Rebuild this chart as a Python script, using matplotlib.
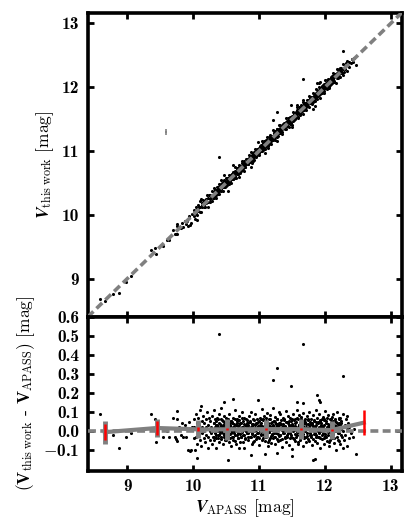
import numpy as np
import matplotlib
matplotlib.use('Agg')
from matplotlib import pyplot as plt
from matplotlib.ticker import FuncFormatter

plt.rcParams['font.family'] = ['cmb10', 'DejaVu Serif']
plt.rcParams['mathtext.fontset'] = 'custom'
plt.rcParams['mathtext.rm'] = 'cmr10'
plt.rcParams['mathtext.it'] = 'STIXGeneral:italic:bold'
plt.rcParams['mathtext.bf'] = 'cmb10'
plt.rcParams['axes.unicode_minus'] = False
plt.rcParams['font.size'] = 12.5

# (V_APASS, V_this_work - V_APASS)
bright_pts = [(8.59, 0.09), (8.66, -0.01), (8.78, -0.02), (8.87, -0.09), (8.98, -0.03),
              (9.06, -0.01), (9.36, 0.09), (9.42, 0.065), (9.44, -0.06), (9.55, -0.035),
              (9.60, 0.0), (9.63, -0.03), (9.69, 0.07), (9.75, 0.105), (9.76, 0.06),
              (9.73, -0.03), (9.74, -0.045), (9.75, -0.055), (9.78, 0.02), (9.81, -0.02),
              (9.85, -0.035), (9.88, 0.03), (9.89, -0.03), (9.92, -0.10), (9.95, -0.105),
              (9.97, -0.10), (9.94, 0.045), (9.99, 0.02), (9.90, 0.01), (9.83, 0.04)]

core_pts = [
    (10.01, 0.02), (10.02, -0.04), (10.02, 0.06), (10.03, -0.10), (10.04, 0.01), (10.04, 0.09),
    (10.05, -0.03), (10.06, 0.04), (10.06, -0.07), (10.07, 0.00), (10.08, 0.07), (10.08, -0.02),
    (10.09, 0.03), (10.10, -0.05), (10.10, 0.11), (10.11, 0.01), (10.12, -0.08), (10.13, 0.05),
    (10.13, -0.01), (10.14, 0.02), (10.15, 0.08), (10.16, -0.04), (10.16, 0.00), (10.17, 0.04),
    (10.18, -0.06), (10.19, 0.06), (10.20, -0.02), (10.20, 0.02), (10.21, 0.10), (10.22, -0.09),
    (10.23, 0.03), (10.23, -0.03), (10.24, 0.07), (10.25, 0.00), (10.25, -0.05),
    (10.26, 0.05), (10.27, -0.01), (10.27, 0.02), (10.28, -0.07), (10.29, 0.08), (10.29, 0.00),
    (10.30, -0.03), (10.31, 0.04), (10.31, 0.11), (10.32, -0.05), (10.33, 0.01), (10.33, 0.06),
    (10.34, -0.02), (10.35, 0.03), (10.35, -0.09), (10.36, 0.07), (10.37, 0.00), (10.37, -0.04),
    (10.38, 0.02), (10.39, 0.09), (10.39, -0.06), (10.40, 0.04), (10.41, -0.01), (10.41, 0.01),
    (10.42, 0.06), (10.43, -0.03), (10.43, 0.12), (10.44, 0.00), (10.45, -0.07), (10.45, 0.03),
    (10.46, 0.05), (10.47, -0.02), (10.47, 0.08), (10.48, 0.01), (10.49, -0.05), (10.49, 0.04),
    (10.50, -0.01), (10.50, 0.07),
    (10.51, 0.02), (10.515, -0.04), (10.52, 0.06), (10.53, 0.00), (10.535, -0.02), (10.54, 0.09),
    (10.55, -0.06), (10.555, 0.03), (10.56, 0.01), (10.57, -0.01), (10.575, 0.05), (10.58, -0.08),
    (10.59, -0.03), (10.593, 0.04), (10.60, 0.01), (10.607, 0.07), (10.61, -0.05), (10.62, 0.00),
    (10.625, 0.02), (10.63, -0.02), (10.64, 0.11), (10.645, 0.03), (10.65, -0.07), (10.66, 0.05),
    (10.665, 0.00), (10.67, 0.06), (10.68, -0.01), (10.685, -0.04), (10.69, 0.03), (10.70, 0.08),
    (10.705, 0.01), (10.71, -0.06), (10.72, 0.04), (10.73, -0.03), (10.735, 0.02), (10.745, 0.10),
    (10.75, 0.05), (10.755, -0.02), (10.76, 0.02), (10.77, -0.09), (10.775, 0.07), (10.78, 0.01),
    (10.79, -0.04), (10.795, 0.03), (10.80, 0.00), (10.81, 0.06), (10.815, -0.01), (10.82, 0.04),
    (10.83, -0.01), (10.835, 0.03), (10.84, -0.05), (10.85, 0.08), (10.855, 0.015), (10.86, -0.03),
    (10.87, 0.05), (10.875, 0.00), (10.88, 0.10), (10.89, -0.07), (10.895, 0.025), (10.90, -0.015),
    (10.905, 0.035), (10.91, -0.06), (10.92, 0.00), (10.925, 0.055), (10.93, -0.025), (10.94, 0.015),
    (10.945, 0.09), (10.95, -0.045), (10.96, 0.005), (10.965, 0.065), (10.97, -0.01), (10.98, 0.025),
    (10.985, -0.035), (10.99, 0.045), (11.00, 0.01), (11.005, -0.075), (11.01, 0.07), (11.02, 0.02),
    (11.025, -0.015), (11.03, 0.04), (11.04, 0.115), (11.045, -0.05), (11.05, 0.00), (11.06, 0.06),
    (11.065, 0.015), (11.07, -0.02), (11.08, 0.08), (11.085, -0.055), (11.09, 0.03), (11.10, 0.005),
    (11.105, 0.05), (11.11, -0.035), (11.12, 0.095), (11.125, 0.02), (11.13, -0.08), (11.14, 0.04),
    (11.145, -0.005), (11.15, 0.065), (11.16, -0.04), (11.165, 0.025), (11.17, 0.085), (11.18, -0.065),
    (11.185, 0.01), (11.19, 0.045), (11.20, -0.02), (11.205, 0.12), (11.21, 0.03), (11.22, -0.01),
    (11.225, 0.05), (11.23, -0.03), (11.24, 0.00), (11.245, 0.075), (11.25, -0.07), (11.26, 0.035),
    (11.265, 0.015), (11.27, -0.045), (11.28, 0.06), (11.285, 0.025), (11.29, -0.015), (11.30, 0.10),
    (11.305, -0.025), (11.31, 0.04), (11.32, 0.09), (11.325, -0.05), (11.33, 0.01), (11.34, 0.055),
    (11.345, -0.085), (11.35, 0.02), (11.36, 0.07), (11.365, -0.01), (11.37, 0.035), (11.38, 0.00),
    (11.385, 0.06), (11.39, -0.04), (11.40, 0.025), (11.405, 0.105), (11.41, -0.06), (11.42, 0.005),
    (11.425, 0.045), (11.43, -0.02), (11.44, 0.08), (11.445, 0.015), (11.45, -0.075), (11.46, 0.03),
    (11.465, -0.01), (11.47, 0.07), (11.48, -0.035), (11.485, 0.02), (11.49, 0.05), (11.50, -0.095),
    (11.505, 0.035), (11.51, 0.00), (11.52, 0.09), (11.525, -0.045), (11.53, 0.015), (11.54, 0.06),
    (11.545, 0.025), (11.55, -0.055), (11.56, 0.045), (11.565, 0.01), (11.57, -0.02), (11.58, 0.11),
    (11.585, 0.065), (11.59, -0.07), (11.60, 0.03), (11.605, -0.005), (11.61, 0.085), (11.62, 0.04),
    (11.625, -0.04), (11.63, 0.015), (11.64, 0.075), (11.645, -0.015), (11.65, 0.05), (11.66, -0.08),
    (11.665, 0.02), (11.67, 0.095), (11.68, 0.005), (11.685, -0.03), (11.69, 0.04), (11.70, 0.06),
    (11.705, 0.00), (11.71, -0.06), (11.72, 0.035), (11.725, 0.08), (11.73, -0.025), (11.74, 0.055),
    (11.745, 0.01), (11.75, -0.045), (11.76, 0.10), (11.765, 0.02), (11.77, -0.01), (11.78, 0.045),
    (11.785, 0.065), (11.79, -0.035), (11.80, 0.005), (11.805, 0.04), (11.81, -0.075), (11.82, 0.025),
    (11.825, 0.085), (11.83, -0.015), (11.84, 0.05), (11.845, -0.055), (11.85, 0.015), (11.86, 0.11),
    (11.865, -0.02), (11.87, 0.03), (11.88, 0.07), (11.885, -0.065), (11.89, 0.00), (11.90, 0.045),
    (11.905, -0.03), (11.91, 0.09), (11.92, 0.02), (11.925, -0.09), (11.93, 0.055), (11.94, 0.01),
    (11.945, 0.04), (11.95, -0.045), (11.96, 0.015), (11.965, 0.075), (11.97, -0.01), (11.98, 0.06),
    (11.985, -0.07), (11.99, 0.03), (12.00, 0.105), (12.005, -0.025), (12.01, 0.005), (12.02, 0.05),
    (12.025, -0.055), (12.03, 0.02), (12.04, 0.085), (12.045, -0.02), (12.05, 0.035), (12.06, 0.00),
    (12.065, -0.08), (12.07, 0.065), (12.08, 0.01), (12.085, 0.045), (12.09, -0.035), (12.10, 0.075),
    (12.105, 0.015), (12.11, -0.04), (12.12, 0.05), (12.125, 0.09), (12.13, -0.015), (12.14, 0.03),
    (12.145, -0.065), (12.15, 0.06), (12.16, 0.00), (12.165, 0.025), (12.17, -0.10), (12.18, 0.04),
    (12.19, 0.02), (12.20, -0.05), (12.21, 0.07), (12.215, -0.01), (12.22, 0.04), (12.23, -0.07),
    (12.24, 0.01), (12.25, 0.05), (12.26, -0.03), (12.27, 0.09), (12.28, 0.00), (12.29, -0.05),
    (12.30, 0.03), (12.31, -0.02), (12.32, 0.06), (12.33, -0.08), (12.34, 0.01), (12.35, 0.04),
    (12.36, -0.04), (12.37, 0.02), (12.39, -0.01), (12.41, 0.03), (12.43, -0.03), (12.44, 0.01)]

# the crowded middle of the cloud
dense_pts = [
    (10.302, 0.01), (10.311, -0.03), (10.318, 0.04), (10.327, -0.01), (10.333, 0.02), (10.342, 0.05),
    (10.351, -0.04), (10.357, 0.00), (10.366, 0.03), (10.372, -0.02), (10.381, 0.06), (10.388, 0.015),
    (10.397, -0.02), (10.404, 0.035), (10.412, 0.005), (10.421, -0.045), (10.427, 0.025), (10.436, 0.00),
    (10.443, 0.055), (10.452, -0.01), (10.458, 0.02), (10.467, -0.035), (10.474, 0.045), (10.483, 0.01),
    (10.491, 0.03), (10.498, -0.005), (10.506, -0.05), (10.514, 0.015), (10.522, 0.06), (10.528, -0.025),
    (10.537, 0.04), (10.544, 0.005), (10.553, -0.015), (10.561, 0.025), (10.567, -0.04), (10.576, 0.05),
    (10.583, 0.00), (10.592, 0.045), (10.598, -0.03), (10.606, 0.02), (10.614, -0.01), (10.622, 0.035),
    (10.629, 0.065), (10.637, -0.055), (10.646, 0.01), (10.652, 0.03), (10.661, -0.02), (10.668, 0.04),
    (10.677, 0.025), (10.683, -0.04), (10.692, 0.055), (10.699, 0.005), (10.708, -0.015), (10.716, 0.04),
    (10.722, -0.03), (10.731, 0.015), (10.738, 0.07), (10.747, -0.005), (10.753, 0.02), (10.762, -0.06),
    (10.768, -0.02), (10.777, 0.035), (10.784, 0.005), (10.793, -0.045), (10.801, 0.025), (10.807, 0.00),
    (10.816, 0.055), (10.823, -0.01), (10.832, 0.02), (10.838, -0.035), (10.847, 0.045), (10.854, 0.01),
    (10.862, 0.00), (10.869, 0.045), (10.878, -0.03), (10.884, 0.02), (10.893, -0.01), (10.901, 0.035),
    (10.908, 0.065), (10.917, -0.055), (10.923, 0.01), (10.932, 0.03), (10.939, -0.02), (10.948, 0.04),
    (10.954, 0.01), (10.963, -0.03), (10.971, 0.04), (10.977, -0.01), (10.986, 0.02), (10.993, 0.05),
    (11.002, -0.04), (11.008, 0.00), (11.017, 0.03), (11.024, -0.02), (11.033, 0.06), (11.039, 0.015),
    (11.048, 0.025), (11.056, -0.04), (11.062, 0.055), (11.071, 0.005), (11.078, -0.015), (11.087, 0.04),
    (11.093, -0.03), (11.102, 0.015), (11.109, 0.07), (11.118, -0.005), (11.124, 0.02), (11.133, -0.06),
    (11.141, 0.03), (11.147, -0.005), (11.156, -0.05), (11.163, 0.015), (11.172, 0.06), (11.178, -0.025),
    (11.187, 0.04), (11.194, 0.005), (11.203, -0.015), (11.209, 0.025), (11.218, -0.04), (11.226, 0.05),
    (11.232, 0.00), (11.241, 0.045), (11.248, -0.03), (11.257, 0.02), (11.263, -0.01), (11.272, 0.035),
    (11.279, 0.065), (11.288, -0.055), (11.294, 0.01), (11.303, 0.03), (11.311, -0.02), (11.317, 0.04),
    (11.326, -0.02), (11.333, 0.035), (11.342, 0.005), (11.348, -0.045), (11.357, 0.025), (11.364, 0.00),
    (11.373, 0.055), (11.379, -0.01), (11.388, 0.02), (11.396, -0.035), (11.402, 0.045), (11.411, 0.01),
    (11.418, 0.01), (11.427, -0.03), (11.433, 0.04), (11.442, -0.01), (11.449, 0.02), (11.458, 0.05),
    (11.464, -0.04), (11.473, 0.00), (11.481, 0.03), (11.487, -0.02), (11.496, 0.06), (11.503, 0.015),
    (11.512, 0.025), (11.518, -0.04), (11.527, 0.055), (11.534, 0.005), (11.543, -0.015), (11.549, 0.04),
    (11.558, -0.03), (11.566, 0.015), (11.572, 0.07), (11.581, -0.005), (11.588, 0.02), (11.597, -0.06),
    (11.603, 0.03), (11.612, -0.005), (11.619, -0.05), (11.628, 0.015), (11.634, 0.06), (11.643, -0.025),
    (11.651, 0.04), (11.657, 0.005), (11.666, -0.015), (11.673, 0.025), (11.682, -0.04), (11.688, 0.05),
    (11.697, 0.00), (11.704, 0.045), (11.713, -0.03), (11.719, 0.02), (11.728, -0.01), (11.736, 0.035),
    (11.742, 0.065), (11.751, -0.055), (11.758, 0.01), (11.767, 0.03), (11.773, -0.02), (11.782, 0.04),
    (11.789, -0.02), (11.798, 0.035), (11.804, 0.005), (11.813, -0.045), (11.821, 0.025), (11.827, 0.00),
    (11.836, 0.055), (11.843, -0.01), (11.852, 0.02), (11.858, -0.035), (11.867, 0.045), (11.874, 0.01),
    (11.883, 0.01), (11.889, -0.03), (11.898, 0.04), (11.906, -0.01), (11.912, 0.02), (11.921, 0.05),
    (11.928, -0.04), (11.937, 0.00), (11.943, 0.03), (11.952, -0.02), (11.959, 0.06), (11.968, 0.015),
    (11.974, 0.025), (11.983, -0.04), (11.991, 0.055), (11.997, 0.005), (12.006, -0.015), (12.013, 0.04),
    (12.022, -0.03), (12.028, 0.015), (12.037, 0.07), (12.044, -0.005), (12.053, 0.02), (12.059, -0.06),
    (12.068, 0.03), (12.076, -0.005), (12.082, -0.05), (12.091, 0.015), (12.098, 0.06), (12.107, -0.025),
    (12.113, 0.04), (12.122, 0.005), (12.129, -0.015), (12.138, 0.025), (12.144, -0.04), (12.153, 0.05),
    (12.161, 0.00), (12.167, 0.045), (12.176, -0.03), (12.183, 0.02), (12.192, -0.01), (12.198, 0.035),
    (12.207, 0.065), (12.214, -0.055), (12.223, 0.01), (12.231, 0.03), (12.238, -0.02), (12.247, 0.04)]

outlier_pts = [(10.40, 0.51), (11.28, 0.33), (11.21, 0.27), (11.48, 0.235), (10.61, 0.17),
               (10.98, 0.16), (10.47, 0.15), (10.12, 0.13), (10.53, -0.155), (10.06, -0.145),
               (10.88, -0.125), (11.09, -0.12), (11.27, -0.115), (11.50, -0.13), (10.69, -0.09),
               (11.67, 0.46), (12.28, 0.29), (11.88, 0.19), (11.91, 0.16), (11.93, 0.15),
               (11.57, 0.15), (11.66, 0.145), (12.47, -0.12), (11.82, -0.155), (11.85, -0.15),
               (12.28, -0.09), (12.23, 0.07), (12.33, 0.08), (12.18, 0.10)]

# binned offsets: bin centre, mean, scatter (grey), error of mean (red)
bin_x = [8.66, 9.45, 10.07, 10.52, 11.11, 11.64, 12.10, 12.59]
bin_mean = [-0.007, 0.015, 0.008, 0.008, 0.009, 0.009, 0.004, 0.043]
bin_std = [0.060, 0.048, 0.048, 0.054, 0.046, 0.051, 0.049, 0.0]
bin_err = [0.041, 0.038, 0.010, 0.005, 0.004, 0.004, 0.005, 0.065]

# typical error bar shown in the upper panel
err_x, err_y, err_dx, err_dy = 9.59, 11.30, 0.02, 0.05

lims = (8.40, 13.17)

pts = np.array(bright_pts + core_pts + dense_pts + outlier_pts)
v_apass = pts[:, 0]
dv = pts[:, 1]
v_this = v_apass + dv

fig = plt.figure(figsize=(4.15, 5.3), dpi=100)
ax1 = fig.add_axes([0.2113, 0.4019, 0.7574, 0.5745])
ax2 = fig.add_axes([0.2113, 0.1119, 0.7574, 0.2900])

grey = '#808080'
lab_font = ['cmr10', 'DejaVu Serif']

ax1.scatter(v_apass, v_this, s=5, c='k', lw=0, zorder=2)
ax1.plot(lims, lims, color=grey, lw=2.6, ls=(0, (2.2, 1.2)), zorder=3)
ax1.errorbar(err_x, err_y, xerr=err_dx, yerr=err_dy, color=grey, lw=1.2, capsize=0)
ax1.set_xlim(lims)
ax1.set_ylim(lims)
ax1.set_xticks([9, 10, 11, 12, 13])
ax1.set_yticks([9, 10, 11, 12, 13])
ax1.tick_params(labelbottom=False)
ax1.set_ylabel(r'$V_{\rm this\ work}$ [mag]', family=lab_font)

ax2.scatter(v_apass, dv, s=5, c='k', lw=0, zorder=2)
ax2.axhline(0, color=grey, lw=2.6, ls=(0, (2.2, 1.2)), zorder=3)
ax2.plot(bin_x, bin_mean, color=grey, lw=3, zorder=4)
ax2.errorbar(bin_x, bin_mean, yerr=bin_std, fmt='none', ecolor=grey, elinewidth=3.5, capsize=0, zorder=5)
ax2.errorbar(bin_x, bin_mean, yerr=bin_err, fmt='none', ecolor='red', elinewidth=1.8, capsize=0, zorder=6)
ax2.set_xlim(lims)
ax2.set_ylim(-0.21, 0.6)
ax2.set_xticks([9, 10, 11, 12, 13])
ax2.set_yticks(np.arange(-0.1, 0.61, 0.1))
ax2.yaxis.set_major_formatter(FuncFormatter(lambda v, p: r'$-$0.1' if v < -0.05 else '%.1f' % abs(v) if abs(v) < 0.05 else '%.1f' % v))
ax2.set_xlabel(r'$V_{\rm APASS}$ [mag]', family=lab_font, labelpad=2)
ax2.set_ylabel(r'($\mathbf{V}_{\rm this\ work}$ - $\mathbf{V}_{\rm APASS}$) [mag]', family=lab_font)

for ax in (ax1, ax2):
    for sp in ax.spines.values():
        sp.set_linewidth(2.6)
    ax.tick_params(direction='in', top=True, right=True, length=4.5, width=2, pad=6)

fig.savefig('out.png', dpi=100)
